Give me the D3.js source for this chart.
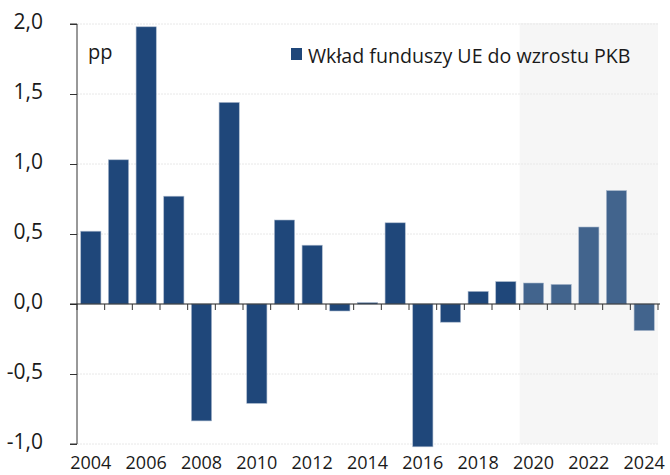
<!DOCTYPE html>
<html>
<head>
<meta charset="utf-8">
<script src="https://cdn.jsdelivr.net/npm/d3@7"></script>
<style>
  body { margin: 0; background: #fff; }
  svg text { font-family: "Open Sans", "Noto Sans", sans-serif; fill: #1a1a1a; }
</style>
</head>
<body>
<div id="chart"></div>
<script>
// data
const years = ['2004','2005','2006','2007','2008','2009','2010','2011','2012','2013','2014',
               '2015','2016','2017','2018','2019','2020','2021','2022','2023','2024'];
const values = [0.52, 1.03, 1.98, 0.77, -0.835, 1.44, -0.71, 0.60, 0.42, -0.05, 0.01,
                0.58, -1.02, -0.13, 0.09, 0.16, 0.15, 0.14, 0.55, 0.81, -0.19];
const forecastFrom = '2020';
const yTicks = [-1.0, -0.5, 0.0, 0.5, 1.0, 1.5, 2.0];
const xLabels = ['2004','2006','2008','2010','2012','2014','2016','2018','2020','2022','2024'];
const seriesName = 'Wkład funduszy UE do wzrostu PKB';

const W = 670, H = 475;
const margin = { top: 24, left: 77, right: 12, bottom: 31 };
const DARK = '#1f477a', LIGHT = '#42648d';

const svg = d3.select('#chart').append('svg')
    .attr('width', W)
    .attr('height', H);

let x = d3.scaleBand().domain(years)
    .range([margin.left, W - margin.right])
    .paddingInner(0.27).paddingOuter(0.135);
let y = d3.scaleLinear().domain([-1, 2])
    .range([H - margin.bottom, margin.top]);

/** forecast shading */
const shadeX = x(forecastFrom) - x.step() * x.paddingInner() / 2;
svg.append('rect')
    .attr('x', shadeX)
    .attr('y', y(2) - 1)
    .attr('width', (W - margin.right) - shadeX)
    .attr('height', y(-1) - y(2) + 1)
    .attr('fill', '#f6f6f6');

/** gridlines */
svg.append('g')
    .selectAll('line')
    .data(yTicks.filter(d => d !== 0))
    .enter()
    .append('line')
    .attr('x1', margin.left)
    .attr('x2', W - margin.right)
    .attr('y1', d => y(d))
    .attr('y2', d => y(d))
    .style('stroke', '#e8e8e8')
    .style('stroke-dasharray', '2,1');

/** bars */
svg.append('g')
    .selectAll('rect')
    .data(years)
    .enter()
    .append('rect')
    .attr('x', d => x(d))
    .attr('width', x.bandwidth())
    .attr('y', (d, i) => y(Math.max(0, values[i])))
    .attr('height', (d, i) => Math.abs(y(values[i]) - y(0)))
    .attr('fill', d => (+d >= +forecastFrom ? LIGHT : DARK))
    .style('stroke', '#a9b8cc')
    .style('stroke-width', 0.6);

/** y axis */
const yAxis = d3.axisLeft(y)
    .tickValues(yTicks)
    .tickSize(7)
    .tickFormat(d => d3.format('.1f')(d).replace('.', ',').replace('−', '-'));
const gy = svg.append('g')
    .attr('transform', `translate(${margin.left},0)`)
    .call(yAxis);
gy.select('.domain').attr('stroke', '#333').attr('d', `M-7,${y(2)}H0V${y(-1)}H-7`);
gy.selectAll('.tick line').attr('stroke', '#333');
gy.selectAll('.tick text')
    .attr('x', -34)
    .attr('dy', '0.2em')
    .attr('text-anchor', 'end')
    .style('font-size', '21px')
    .style('fill', '#1a1a1a');

/** zero line with category ticks */
const step = x.step();
const boundaries = d3.range(years.length + 1).map(i => margin.left + i * step);
svg.append('line')
    .attr('x1', margin.left - 7)
    .attr('x2', W - margin.right + 2)
    .attr('y1', y(0))
    .attr('y2', y(0))
    .style('stroke', '#222')
    .style('stroke-width', 1.2);
svg.append('g')
    .selectAll('line')
    .data(boundaries)
    .enter()
    .append('line')
    .attr('x1', d => d)
    .attr('x2', d => d)
    .attr('y1', y(0))
    .attr('y2', y(0) + 6)
    .style('stroke', '#333');

/** x labels */
svg.append('g')
    .selectAll('text')
    .data(xLabels)
    .enter()
    .append('text')
    .attr('x', d => x(d) + x.bandwidth() / 2)
    .attr('y', H - 6)
    .attr('text-anchor', 'middle')
    .style('font-size', '18px')
    .text(d => d);

/** unit label */
svg.append('text')
    .attr('x', 88)
    .attr('y', 59)
    .style('font-size', '20px')
    .text('pp');

/** legend */
svg.append('rect')
    .attr('x', 291)
    .attr('y', 48)
    .attr('width', 11)
    .attr('height', 12)
    .attr('fill', DARK);
svg.append('text')
    .attr('x', 308)
    .attr('y', 63)
    .style('font-size', '19.6px')
    .text(seriesName);
</script>
</body>
</html>
